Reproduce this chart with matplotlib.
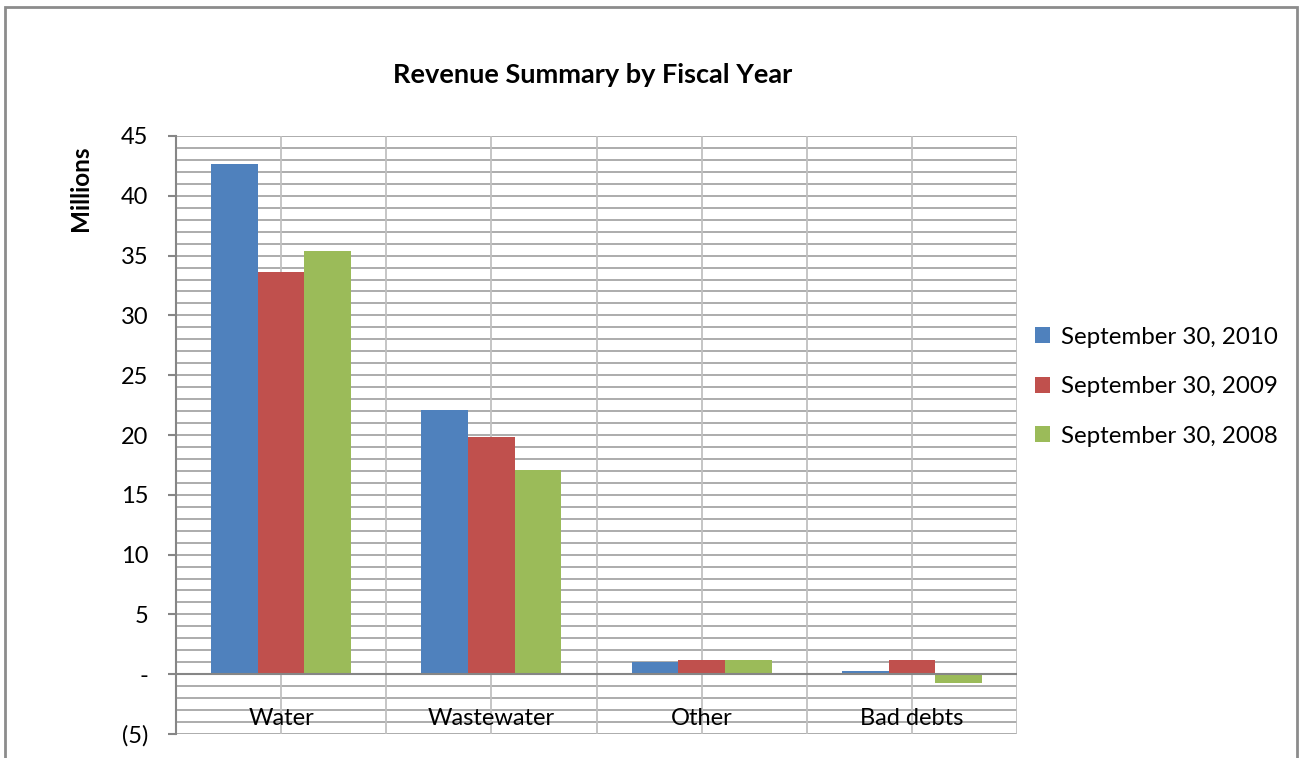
import numpy as np
import matplotlib.pyplot as plt
from matplotlib.patches import Rectangle

categories = ["Water", "Wastewater", "Other", "Bad debts"]
series_names = ["September 30, 2010", "September 30, 2009", "September 30, 2008"]
fy2010 = [42.7, 22.1, 1.0, 0.3]
fy2009 = [33.6, 19.8, 1.2, 1.2]
fy2008 = [35.4, 17.1, 1.2, -0.7]
colors = ["#4F81BD", "#C0504D", "#9BBB59"]

plt.rcParams['font.family'] = ['Lato', 'DejaVu Sans']

fig = plt.figure(figsize=(13.03, 7.58), dpi=100)
ax = fig.add_axes([176 / 1303, 1 - 734 / 758, 841 / 1303, 598 / 758])

# outer chart border
fig.patches.append(Rectangle((5 / 1303, -0.05), 1292 / 1303, 1.05 - 7 / 758,
                             transform=fig.transFigure, fill=False,
                             edgecolor="#8c8c8c", linewidth=2))

x = np.arange(len(categories))
w = 0.222
for i, vals in enumerate([fy2010, fy2009, fy2008]):
    ax.bar(x + (i - 1) * w, vals, width=w, color=colors[i],
           label=series_names[i], zorder=3)

ax.set_xlim(-0.5, len(categories) - 0.5)
ax.set_ylim(-5, 45)

# gridlines
for v in np.arange(-5, 46, 1):
    ax.axhline(v, color="#a6a6a6", linewidth=1.3, zorder=1)
for v in np.arange(-0.5, len(categories), 0.5):
    ax.axvline(v, color="#c0c0c0", linewidth=1.3, zorder=1)
ax.axhline(0, color="#868686", linewidth=1.5, zorder=4)

for s in ["top", "right", "bottom"]:
    ax.spines[s].set_visible(False)
ax.spines["left"].set_color("#868686")
ax.spines["left"].set_linewidth(1.5)

yt = np.arange(-5, 46, 5)
ax.set_yticks(yt)
ax.set_yticklabels(["(5)", "-"] + [str(v) for v in yt[2:]], fontsize=17)
ax.tick_params(axis="y", length=6, color="#868686", width=1.5, pad=14)
ax.set_xticks([])

for i, c in enumerate(categories):
    ax.text(i, -3.7, c, ha="center", va="center", fontsize=17, zorder=5)

fig.text(593 / 1303, 1 - 75 / 758, "Revenue Summary by Fiscal Year",
         ha="center", va="center", fontsize=19.5, fontweight="bold")
fig.text(80 / 1303, 1 - 188 / 758, "Millions", ha="center", va="center",
         rotation=90, fontsize=17.5, fontweight="bold")

ax.legend(loc="center left", bbox_to_anchor=(0.995, 0.581), frameon=False,
          fontsize=17.4, handlelength=0.65, handleheight=0.65, handletextpad=0.45,
          labelspacing=1.18)

fig.savefig("out.png", dpi=100)
